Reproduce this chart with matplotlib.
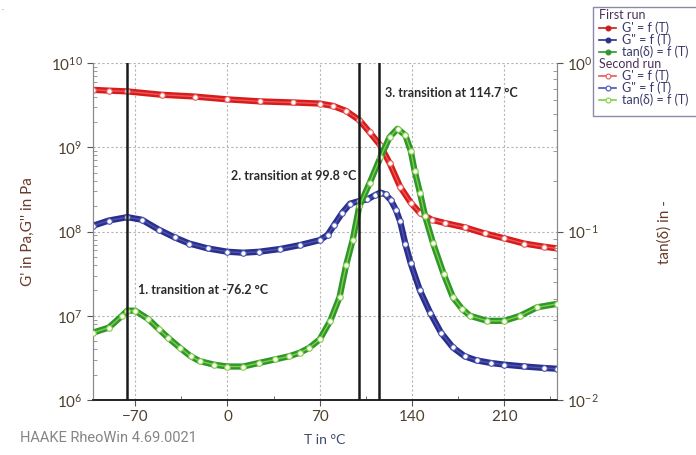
import matplotlib
matplotlib.use('Agg')
import matplotlib.pyplot as plt
from matplotlib.lines import Line2D
from matplotlib.patches import Rectangle
from matplotlib.ticker import FixedLocator, LogLocator, NullFormatter

plt.rcParams['font.family'] = ['Lato', 'DejaVu Sans']
plt.rcParams['mathtext.default'] = 'regular'

# storage modulus G' (Pa)
t_g1 = [-102, -90, -76, -50, -25, 0, 25, 50, 70, 80, 90, 100, 108, 116,
        123, 131, 139, 146, 155, 165, 180, 195, 210, 225, 240, 250]
g1 = [4.8e9, 4.7e9, 4.6e9, 4.2e9, 4.0e9, 3.7e9, 3.5e9, 3.4e9, 3.3e9, 3.1e9,
      2.7e9, 2.1e9, 1.5e9, 1.05e9, 6.5e8, 3.4e8, 2.2e8, 1.66e8, 1.38e8,
      1.26e8, 1.12e8, 9.5e7, 8.3e7, 7.2e7, 6.6e7, 6.3e7]

# loss modulus G'' (Pa)
t_g2 = [-102, -90, -76, -65, -52, -40, -29, -15, 0, 12, 24, 40, 55, 70, 76,
        81, 87, 93, 100, 106, 112, 116, 120, 124, 128, 131, 135, 139, 146,
        154, 162, 171, 180, 189, 200, 210, 225, 240, 250]
g2 = [1.17e8, 1.35e8, 1.48e8, 1.38e8, 1.05e8, 8.5e7, 7.2e7, 6.3e7, 5.75e7,
      5.6e7, 5.75e7, 6.2e7, 6.9e7, 7.9e7, 9.1e7, 1.2e8, 1.66e8, 2.14e8, 2.3e8,
      2.4e8, 2.7e8, 2.9e8, 2.75e8, 2.35e8, 1.78e8, 1.32e8, 7.1e7, 4.2e7,
      2.0e7, 1.07e7, 6.3e6, 4.2e6, 3.3e6, 2.95e6, 2.75e6, 2.63e6, 2.5e6,
      2.4e6, 2.35e6]

# loss factor tan(delta)
t_td = [-102, -90, -80, -76, -70, -60, -52, -45, -36, -28, -21, -10, 0, 12,
        24, 36, 47, 55, 62, 70, 78, 85, 90, 95, 100, 108, 116, 123, 129, 135,
        139, 142, 146, 150, 156, 164, 171, 178, 184, 197, 210, 222, 235, 250]
td = [0.0251, 0.0269, 0.0316, 0.0339, 0.0339, 0.0302, 0.0263, 0.0234,
      0.0204, 0.0182, 0.0170, 0.0162, 0.0158, 0.0158, 0.0166, 0.0174, 0.0182,
      0.0191, 0.0204, 0.0229, 0.0295, 0.0407, 0.063, 0.089, 0.141, 0.195,
      0.275, 0.363, 0.407, 0.372, 0.302, 0.229, 0.170, 0.123, 0.085, 0.056,
      0.0407, 0.0347, 0.0316, 0.0295, 0.0295, 0.0316, 0.0355, 0.0372]

transitions = [-76.2, 99.8, 114.7]
x_ticks = [-70, 0, 70, 140, 210]

W, H = 696, 455
label_col = '#6b3a2a'
tick_col = '#4d4030'

fig = plt.figure(figsize=(W / 100, H / 100), dpi=100)
ax = fig.add_axes([93 / W, 1 - 400 / H, (557 - 93) / W, (400 - 63) / H])
ax2 = ax.twinx()

# first run: solid bands, second run: open markers
ax.semilogy(t_g1, g1, '-', color='#d81c1c', lw=4.5, zorder=3)
ax.semilogy(t_g1, g1, '-o', color='#e8595a', lw=1, ms=4, mfc='white',
            mew=0.8, zorder=4)
ax.semilogy(t_g2, g2, '-', color='#2b2f8a', lw=4.5, zorder=3)
ax.semilogy(t_g2, g2, '-o', color='#4a55b5', lw=1, ms=4, mfc='white',
            mew=0.8, zorder=4)
ax2.semilogy(t_td, td, '-', color='#2e962e', lw=4.5, zorder=3)
ax2.semilogy(t_td, td, '-o', color='#7fcf3f', lw=1, ms=4, mfc='white',
             mew=0.8, zorder=4)

for t in transitions:
    ax2.axvline(t, color='#1a1a1a', lw=1.8, zorder=6)

ax.set_xlim(-102, 250)
ax.set_ylim(1e6, 1e10)
ax2.set_ylim(1e-2, 1)

ax.xaxis.set_major_locator(FixedLocator(x_ticks))
ax.xaxis.set_minor_locator(FixedLocator([-35, 35, 105, 175, 245]))
ax.yaxis.set_major_locator(LogLocator(base=10, numticks=10))
ax.yaxis.set_minor_locator(LogLocator(base=10, subs=range(2, 10), numticks=10))
ax.yaxis.set_minor_formatter(NullFormatter())
ax2.yaxis.set_major_locator(LogLocator(base=10, numticks=10))
ax2.yaxis.set_minor_locator(LogLocator(base=10, subs=range(2, 10), numticks=10))
ax2.yaxis.set_minor_formatter(NullFormatter())

ax.grid(True, which='major', color='#b5b5b5', lw=0.8, ls=(0, (2, 2)))
ax.set_axisbelow(True)

for a in (ax, ax2):
    a.spines['top'].set_visible(False)
    a.spines['left'].set_color('#8a8a8a')
    a.spines['right'].set_color('#8a8a8a')
    a.spines['bottom'].set_color('#222222')
    a.spines['bottom'].set_linewidth(1.2)
ax.tick_params(axis='both', which='major', labelsize=11, labelcolor=tick_col,
               color='#555555', length=4)
ax.tick_params(axis='y', which='minor', direction='in', length=3,
               color='#888888')
ax.tick_params(axis='x', which='minor', direction='in', length=3,
               color='#555555')
ax2.tick_params(axis='y', which='major', labelsize=11, labelcolor=tick_col,
                color='#555555', length=4)
ax2.tick_params(axis='y', which='minor', direction='in', length=3,
                color='#888888')

ax.set_xlabel('T in °C', fontsize=10, color='#3a4a6a', labelpad=7)
ax.set_ylabel("G' in Pa,G'' in Pa", fontsize=11, color=label_col)
ax.yaxis.set_label_coords((35 - 93) / 464, 0.5)
ax2.set_ylabel('tan(δ) in -', fontsize=11, color=label_col)
ax2.yaxis.set_label_coords((657 - 93) / 464, 0.5)

ann = dict(fontsize=9, fontweight='bold', color='#2a2a2a', va='center',
           ha='left', zorder=7)
ax.text(-67.7, 10 ** 7.31, '1. transition at -76.2 °C', **ann)
ax.text(3, 10 ** 8.66, '2. transition at 99.8 °C', **ann)
ax.text(119.5, 10 ** 9.64, '3. transition at 114.7 °C', **ann)

fig.text(20 / W, 1 - 438 / H, 'HAAKE RheoWin 4.69.0021', fontsize=10.5,
         color='#858585', va='center', ha='left', family='Roboto')
fig.text(2 / W, 1 - 10 / H, '.', fontsize=6, color='#888888')

# legend box drawn by hand in figure pixels
def fx(px):
    return px / W

def fy(py):
    return 1 - py / H

fig.patches.append(Rectangle((fx(593), fy(116)), fx(120), 109 / H,
                             transform=fig.transFigure, fc='white',
                             ec='#8a8aa8', lw=1))
leg_txt = '#3a3a6a'
rows = [
    ('First run', None, None, 15),
    ("G' = f (T)", '#c81e1e', True, 28),
    ('G" = f (T)', '#2b2f8a', True, 40),
    ('tan(δ) = f (T)', '#2e962e', True, 52),
    ('Second run', None, None, 64),
    ("G' = f (T)", '#e8595a', False, 76),
    ('G" = f (T)', '#4a55b5', False, 88),
    ('tan(δ) = f (T)', '#7fcf3f', False, 100),
]
for label, col, filled, py in rows:
    if col is None:
        fig.text(fx(599), fy(py), label, fontsize=9, color='#4a2f5a',
                 va='center', ha='left')
        continue
    fig.add_artist(Line2D([fx(599), fx(616)], [fy(py), fy(py)], color=col,
                          lw=1.2, transform=fig.transFigure))
    fig.add_artist(Line2D([fx(607.5)], [fy(py)], color=col, lw=0, marker='o',
                          ms=3.5, mfc=col if filled else 'white', mew=0.8,
                          transform=fig.transFigure))
    fig.text(fx(622), fy(py), label, fontsize=9, color=leg_txt,
             va='center', ha='left')

fig.savefig('out.png', dpi=100)
